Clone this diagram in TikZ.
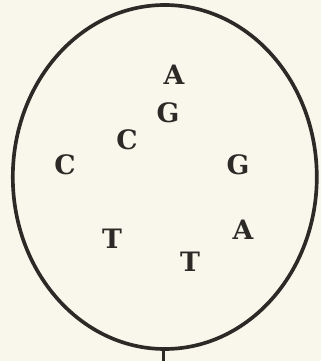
\documentclass[tikz,border=0pt]{standalone}
\usepackage{fontspec}
\newfontfamily\basefont{DejaVu Serif}
\usepackage{tikz}

\definecolor{paper}{HTML}{F9F7EC}
\definecolor{ink}{HTML}{2B2A26}

\tikzset{
  base/.style={text=ink, font=\basefont\bfseries\fontsize{19}{19}\selectfont, inner sep=0pt}
}

\begin{document}
\begin{tikzpicture}
    % Paper
    \fill[paper] (0,0) rectangle (8.025,9.025);
    \useasboundingbox (0,0) rectangle (8.025,9.025);

    % Balloon
    \draw[ink, line width=2.6pt] (4.12,4.6) ellipse (3.8cm and 4.3cm);
    \coordinate (knot) at (4.08,0.3);
    \coordinate (tail) at (4.08,0);
    \draw[ink, line width=2.4pt] (knot) -- (tail);

    % Bases
    \node[base] (a1) at (4.35,7.15) {A};
    \node[base] (g1) at (4.2,6.2) {G};
    \node[base] (c1) at (3.175,5.525) {C};
    \node[base] (c2) at (1.625,4.9) {C};
    \node[base] (g2) at (5.95,4.9) {G};
    \node[base] (a2) at (6.075,3.275) {A};
    \node[base] (t1) at (2.8,3.05) {T};
    \node[base] (t2) at (4.75,2.475) {T};
\end{tikzpicture}
\end{document}
